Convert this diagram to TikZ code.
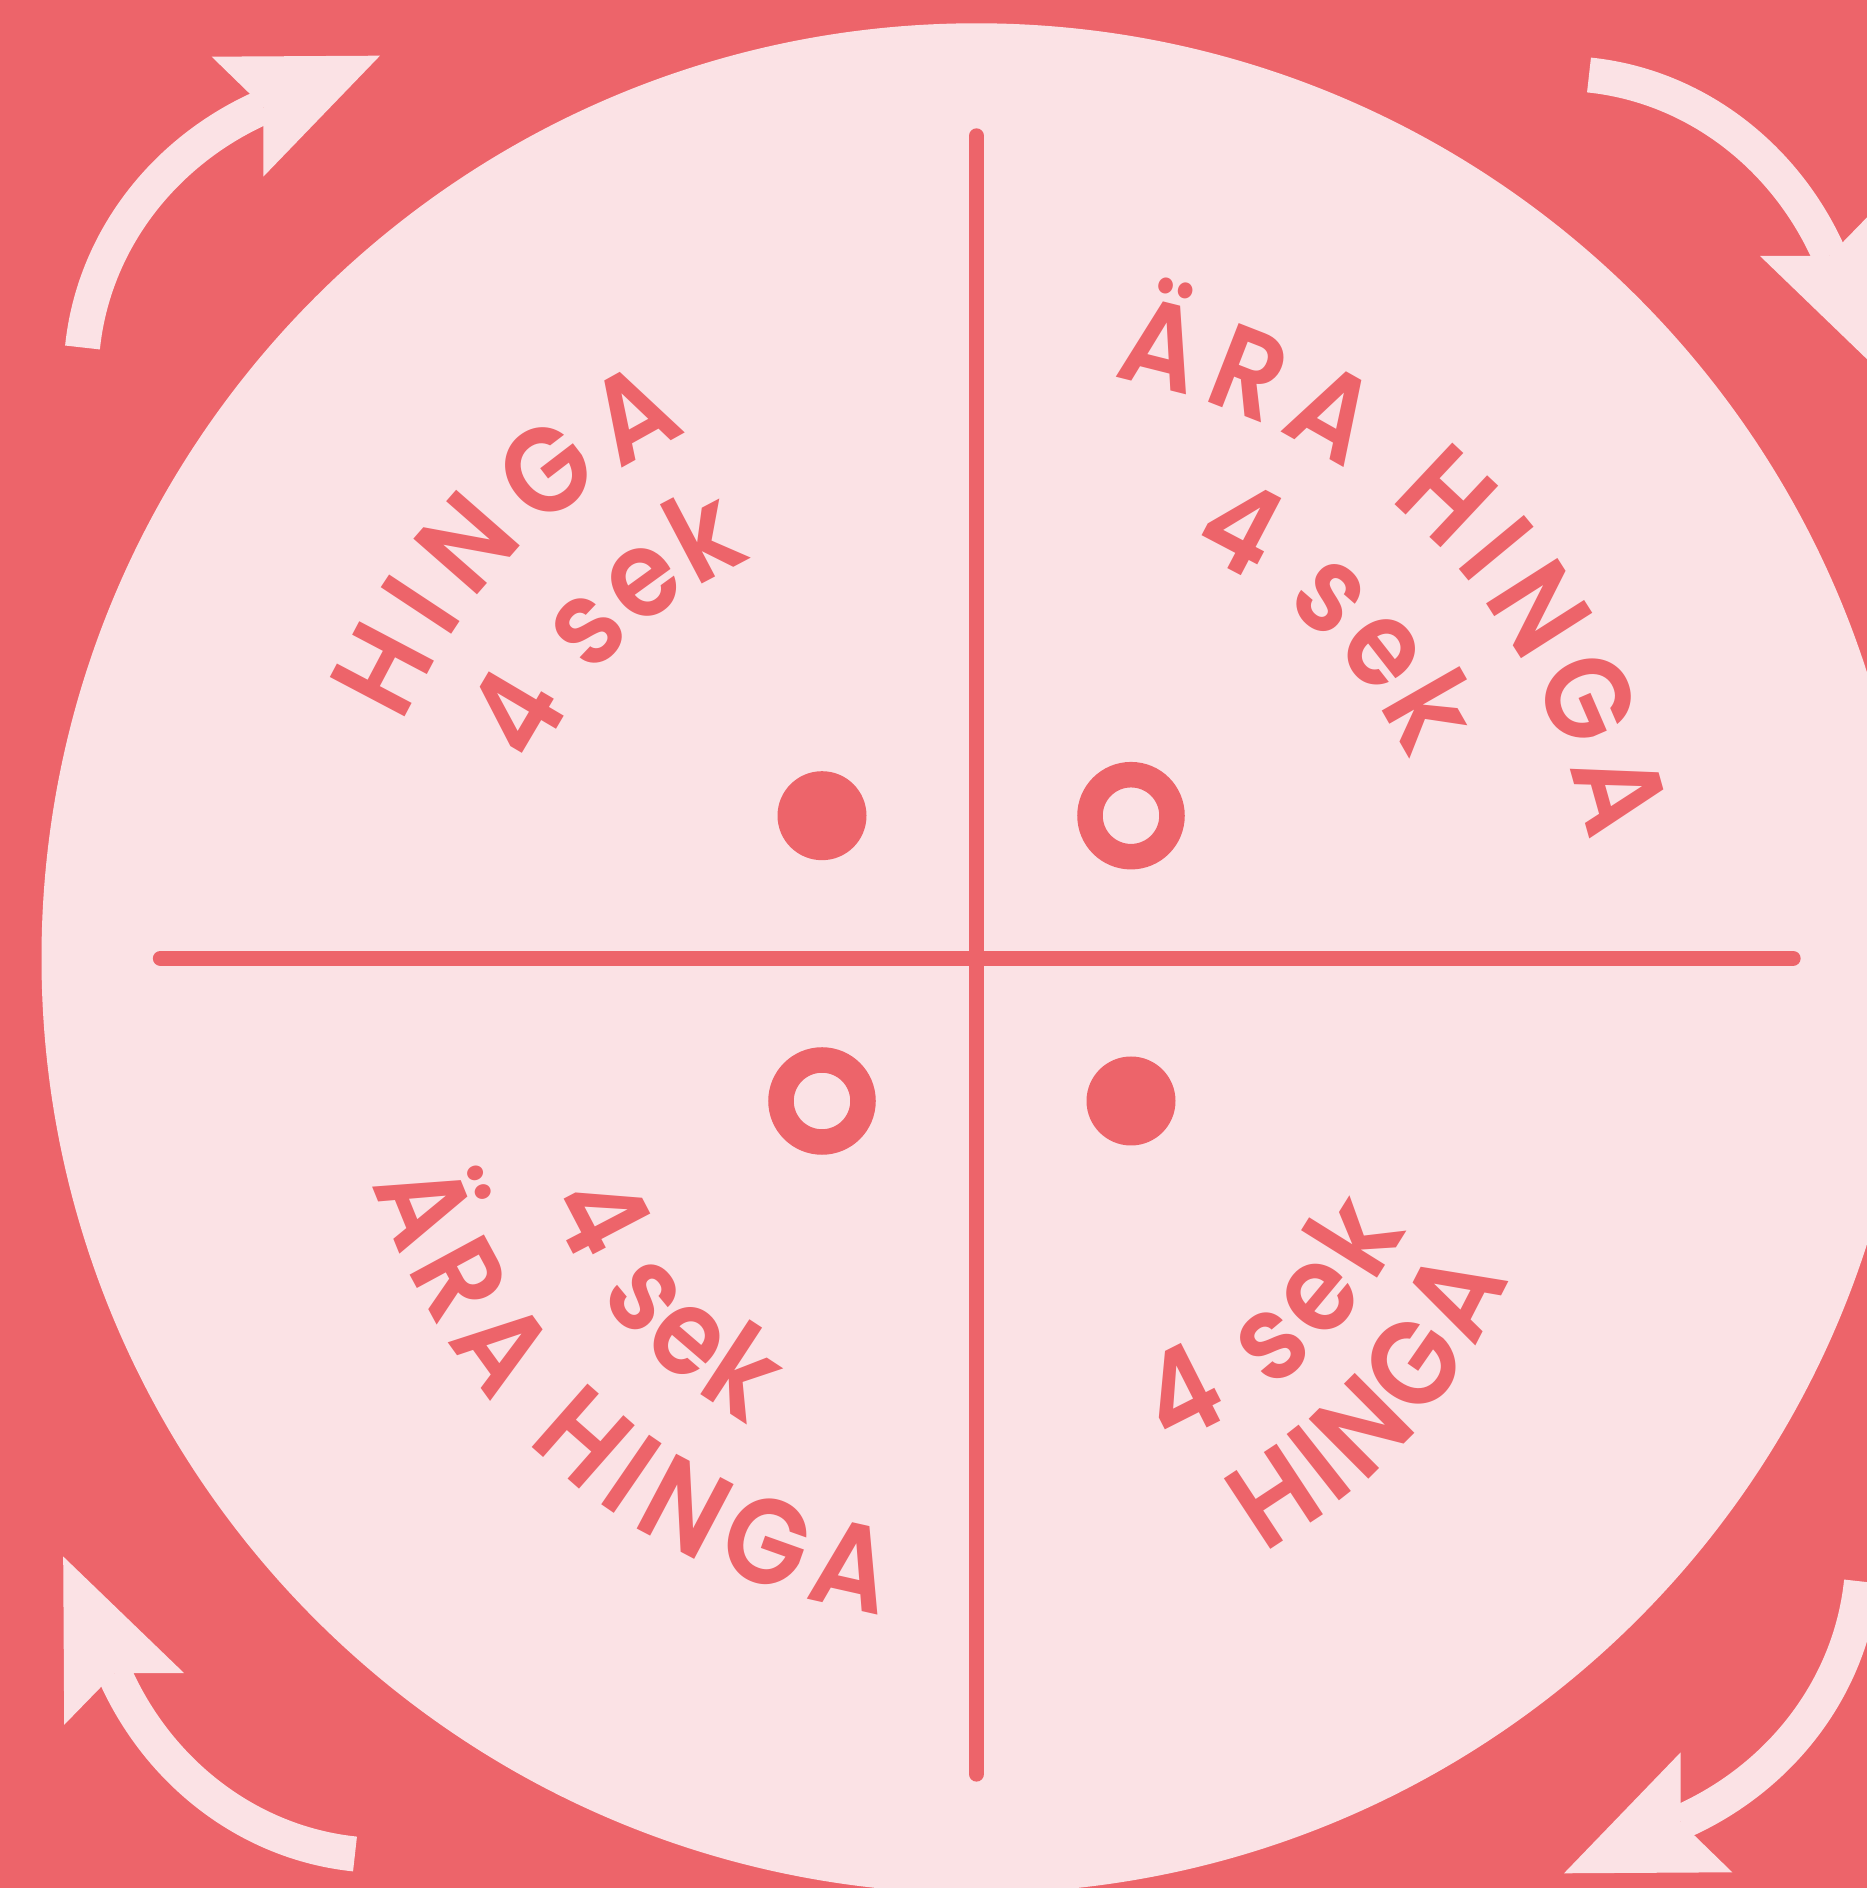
\documentclass[tikz,border=0pt]{standalone}
\usepackage{fontspec}
\usetikzlibrary{calc,decorations.text}
\newfontfamily\wordfont{Poppins}[UprightFont=* SemiBold, FakeStretch=0.9]
\definecolor{brick}{HTML}{ED646A}
\definecolor{blush}{HTML}{FBE2E5}
\tikzset{
  ringtext/.style={decorate, decoration={text along path, text align={fit to path}, text color=brick,
      text={|\wordfont\fontsize{121}{121}\selectfont|#1}}},
  crossline/.style={brick, line width=15.3, line cap=round},
  ringdot/.style={brick, line width=25.5}
}
\begin{document}
\begin{tikzpicture}[x=1pt, y=1pt]
    \useasboundingbox (0,0) rectangle (1867,1888);
    \clip (0,0) rectangle (1867,1888);
    % Background and big disc
    \fill[brick] (0,0) rectangle (1867,1888);
    \coordinate (c) at (976.5,929.7);
    \fill[blush] (c) circle[radius=935];

    % Four turning arrows, one drawn and turned round (R)
    \coordinate (R) at (972,923.5);
    \foreach \turn in {0,-90,180,90}{
      \begin{scope}[rotate around={\turn:(R)}]
        \coordinate (tail) at (82.5,1540.5);
        \coordinate (neck) at (263.3,1781.1);
        \draw[blush, line width=35] (tail) .. controls +(84.1:107.6) and +(203.7:107.6) .. (neck);
        \fill[blush] (neck) -- (211.7,1831.3) -- (380,1832.3) -- (263.3,1711.3) -- cycle;
      \end{scope}
    }

    % The cross
    \coordinate (top) at (976.5,1752);
    \coordinate (bottom) at (976.5,114);
    \coordinate (left) at (160.5,929.7);
    \coordinate (right) at (1793,929.7);
    \draw[crossline] (top) -- (bottom);
    \draw[crossline] (left) -- (right);

    % Dots and rings
    \fill[brick] (822,1072.3) circle[radius=44.5];
    \draw[ringdot] (1131,1072.3) circle[radius=41];
    \draw[ringdot] (822,787) circle[radius=41];
    \fill[brick] (1131,787) circle[radius=44.5];

    % Words along the rim
    \path[ringtext={HINGA}] ($(c)+(157.8:620)$) to[bend left=18.8] ($(c)+(118.8:600)$);
    \path[ringtext={4 sek}] ($(c)+(156.6:481)$) to[bend left=18.5] ($(c)+(119.3:458)$);
    \path[ringtext={ÄRA HINGA}] ($(c)+(76.8:597)$) to[bend left=33] ($(c)+(10.8:624)$);
    \path[ringtext={4 sek}] ($(c)+(62.5:461)$) to[bend left=19] ($(c)+(24.6:476)$);
    \path[ringtext={HINGA}] ($(c)+(-64.2:660)$) to[bend right=17] ($(c)+(-31:622)$);
    \path[ringtext={4 sek}] ($(c)+(-68.6:525)$) to[bend right=18] ($(c)+(-32.3:509)$);
    \path[ringtext={ÄRA HINGA}] ($(c)+(200.5:645)$) to[bend right=30] ($(c)+(261.7:664)$);
    \path[ringtext={4 sek}] ($(c)+(209.6:494)$) to[bend right=17] ($(c)+(243.9:520)$);
\end{tikzpicture}
\end{document}
